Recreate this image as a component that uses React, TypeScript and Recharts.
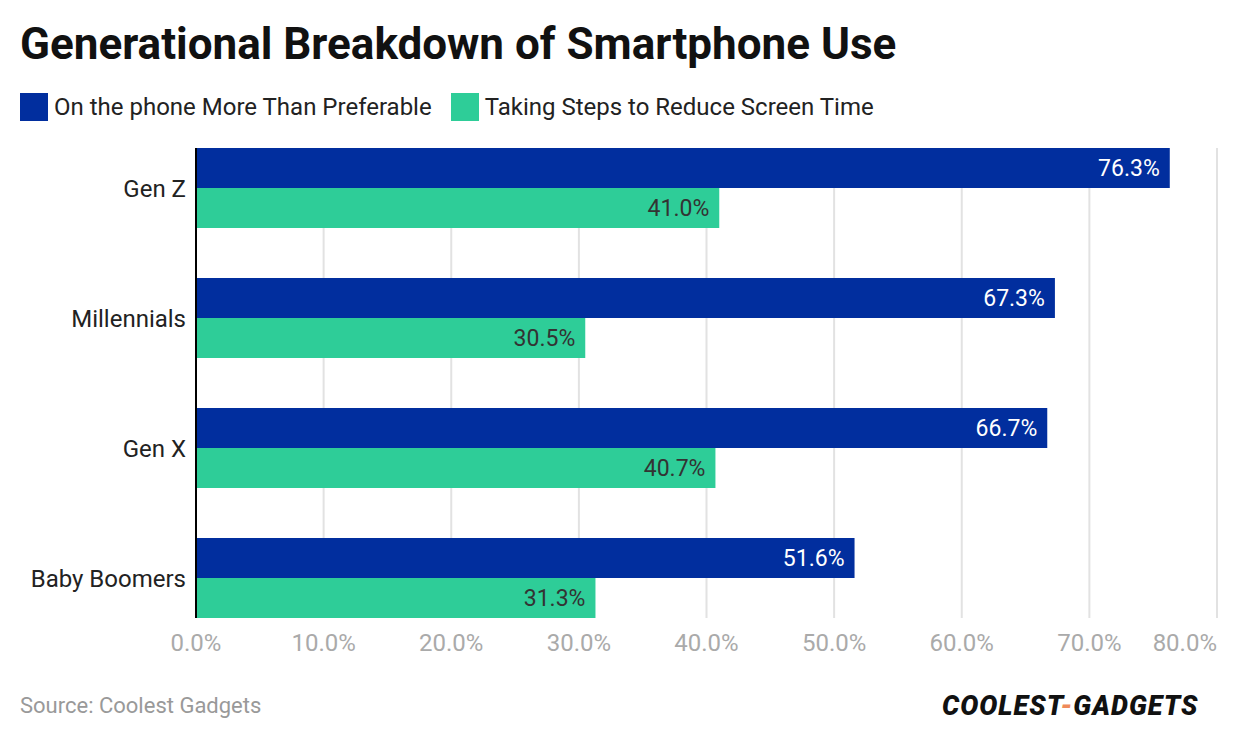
import { BarChart, Bar, XAxis, YAxis, CartesianGrid, LabelList } from "recharts";

const generations = ["Gen Z", "Millennials", "Gen X", "Baby Boomers"];
const onPhoneMore = [76.3, 67.3, 66.7, 51.6];
const reducingScreenTime = [41.0, 30.5, 40.7, 31.3];
const xTicks = [0, 10, 20, 30, 40, 50, 60, 70, 80];

const seriesNames = ["On the phone More Than Preferable", "Taking Steps to Reduce Screen Time"];
const BLUE = "#012e9e";
const GREEN = "#2ecd98";

const data = generations.map((name, i) => ({
  name,
  more: onPhoneMore[i],
  reduce: reducingScreenTime[i],
}));

const FONT = "Roboto, 'Noto Sans', sans-serif";
const pct = (v: number | string) => `${Number(v).toFixed(1)}%`;

// last tick sits right-aligned on its gridline so it doesn't run off the edge
const XTick = (props: any) => {
  const { x, y, payload, index } = props;
  const last = index === xTicks.length - 1;
  return (
    <text x={x} y={y} dy="0.71em" textAnchor={last ? "end" : "middle"} fill="#aaa" fontSize={24} fontFamily={FONT}>
      {pct(payload.value)}
    </text>
  );
};

export default function App() {
  return (
    <div style={{ position: "relative", width: 1240, height: 742, background: "#fff", fontFamily: FONT, overflow: "hidden" }}>
      <style>{`body{margin:0}`}</style>

      <div style={{ position: "absolute", left: 20, top: 22, fontSize: 44, lineHeight: 1, fontWeight: 700, color: "#111", whiteSpace: "nowrap" }}>
        Generational Breakdown of Smartphone Use
      </div>

      {/* legend */}
      <div style={{ position: "absolute", left: 20, top: 93, height: 28, display: "flex", alignItems: "center", fontSize: 24, color: "#222", whiteSpace: "nowrap" }}>
        <span style={{ width: 28, height: 28, background: BLUE, marginRight: 6 }} />
        <span style={{ marginRight: 19 }}>{seriesNames[0]}</span>
        <span style={{ width: 28, height: 28, background: GREEN, marginRight: 6 }} />
        <span>{seriesNames[1]}</span>
      </div>

      <div style={{ position: "absolute", left: 0, top: 0 }}>
        <BarChart
          width={1240}
          height={742}
          data={data}
          layout="vertical"
          margin={{ top: 148, right: 23, bottom: 94, left: 0 }}
          barCategoryGap={25}
          barGap={0}
        >
          <CartesianGrid horizontal={false} stroke="#e2e2e2" strokeWidth={2} />
          <XAxis
            type="number"
            domain={[0, 80]}
            ticks={xTicks}
            axisLine={false}
            tickLine={false}
            height={30}
            tickMargin={10}
            interval={0}
            tick={<XTick />}
          />
          <YAxis
            type="category"
            dataKey="name"
            width={196}
            padding={{ top: -25, bottom: -25 }}
            axisLine={{ stroke: "#000", strokeWidth: 2 }}
            tickLine={false}
            tickMargin={4}
            tick={{ fill: "#222", fontSize: 24, fontFamily: FONT }}
          />
          <Bar dataKey="more" name={seriesNames[0]} fill={BLUE} isAnimationActive={false}>
            <LabelList dataKey="more" position="insideRight" offset={10} formatter={pct} fill="#fff" fontSize={23} fontFamily={FONT} />
          </Bar>
          <Bar dataKey="reduce" name={seriesNames[1]} fill={GREEN} isAnimationActive={false}>
            <LabelList dataKey="reduce" position="insideRight" offset={10} formatter={pct} fill="#333" fontSize={23} fontFamily={FONT} />
          </Bar>
        </BarChart>
      </div>

      <div style={{ position: "absolute", left: 20, top: 693, fontSize: 22, color: "#999" }}>Source: Coolest Gadgets</div>

      {/* logo */}
      <div style={{ position: "absolute", left: 942, top: 690, fontSize: 27, fontWeight: 900, fontStyle: "italic", color: "#111", letterSpacing: 1, whiteSpace: "nowrap" }}>
        COOLEST<span style={{ color: "#ef8a5a" }}>-</span>GADGETS
      </div>
    </div>
  );
}
